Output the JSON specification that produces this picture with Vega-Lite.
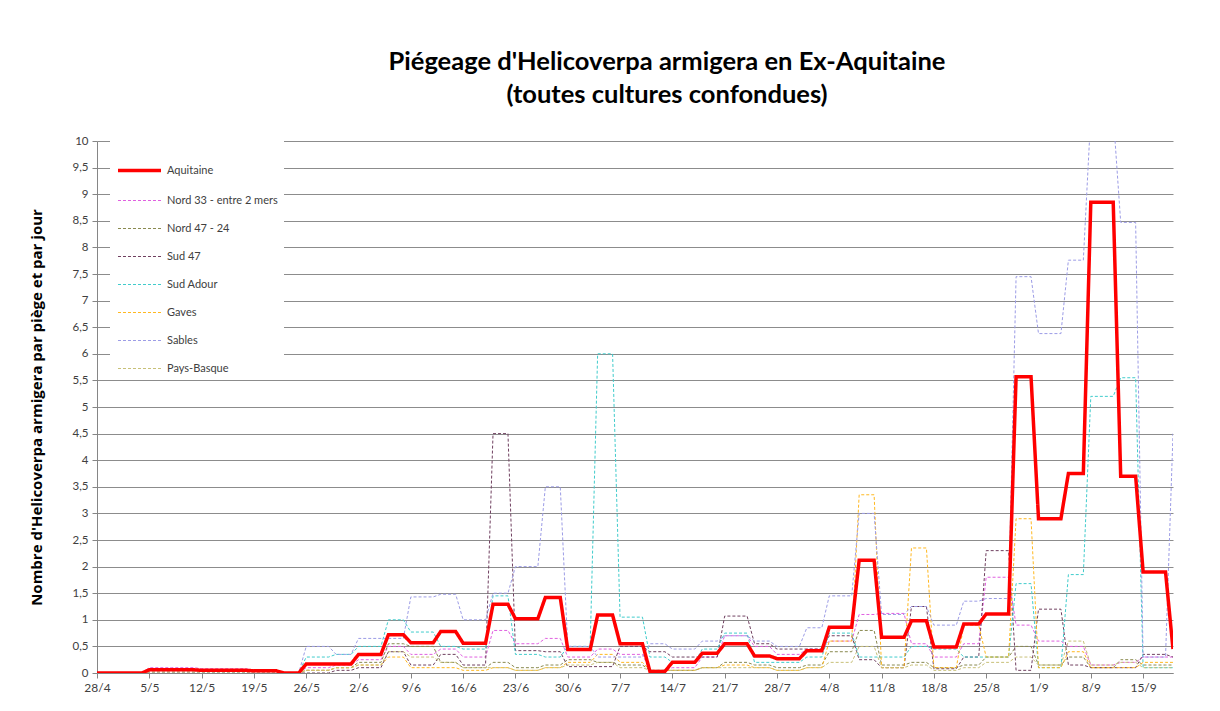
{
  "$schema": "https://vega.github.io/schema/vega-lite/v6.json",
  "width": 1076,
  "height": 532,
  "autosize": {"type": "none"},
  "padding": {"left": 97, "top": 141, "right": 47, "bottom": 38},
  "background": "white",
  "config": {"view": {"stroke": null}, "font": "Lato"},
  "title": {
    "text": ["Piégeage d'Helicoverpa armigera en Ex-Aquitaine", "(toutes cultures confondues)"],
    "fontSize": 25.5, "font": "Lato", "fontWeight": "bold", "color": "#000000",
    "anchor": "middle", "dx": 32, "offset": 27, "lineHeight": 33
  },
  "datasets": {
    "piegeage": [
      {"date":"2016-04-28T00:00","Aquitaine":0,"Nord 33 - entre 2 mers":0,"Nord 47 - 24":0,"Sud 47":0,"Sud Adour":0,"Gaves":0,"Sables":0,"Pays-Basque":0},
      {"date":"2016-05-01T00:00","Aquitaine":0,"Nord 33 - entre 2 mers":0,"Nord 47 - 24":0,"Sud 47":0,"Sud Adour":0,"Gaves":0,"Sables":0,"Pays-Basque":0},
      {"date":"2016-05-02T00:00","Aquitaine":0,"Nord 33 - entre 2 mers":0,"Nord 47 - 24":0,"Sud 47":0,"Sud Adour":0,"Gaves":0,"Sables":0,"Pays-Basque":0},
      {"date":"2016-05-04T00:00","Aquitaine":0,"Nord 33 - entre 2 mers":0,"Nord 47 - 24":0,"Sud 47":0,"Sud Adour":0,"Gaves":0,"Sables":0,"Pays-Basque":0},
      {"date":"2016-05-05T00:00","Aquitaine":0.06,"Nord 33 - entre 2 mers":0.1,"Nord 47 - 24":0.02,"Sud 47":0,"Sud Adour":0,"Gaves":0,"Sables":0,"Pays-Basque":0},
      {"date":"2016-05-08T00:00","Aquitaine":0.06,"Nord 33 - entre 2 mers":0.1,"Nord 47 - 24":0.02,"Sud 47":0,"Sud Adour":0,"Gaves":0,"Sables":0,"Pays-Basque":0},
      {"date":"2016-05-09T00:00","Aquitaine":0.06,"Nord 33 - entre 2 mers":0.1,"Nord 47 - 24":0.02,"Sud 47":0,"Sud Adour":0,"Gaves":0,"Sables":0,"Pays-Basque":0},
      {"date":"2016-05-11T00:00","Aquitaine":0.06,"Nord 33 - entre 2 mers":0.1,"Nord 47 - 24":0.02,"Sud 47":0,"Sud Adour":0,"Gaves":0,"Sables":0,"Pays-Basque":0},
      {"date":"2016-05-12T00:00","Aquitaine":0.05,"Nord 33 - entre 2 mers":0.08,"Nord 47 - 24":0.02,"Sud 47":0,"Sud Adour":0,"Gaves":0,"Sables":0,"Pays-Basque":0},
      {"date":"2016-05-15T00:00","Aquitaine":0.05,"Nord 33 - entre 2 mers":0.08,"Nord 47 - 24":0.02,"Sud 47":0,"Sud Adour":0,"Gaves":0,"Sables":0,"Pays-Basque":0},
      {"date":"2016-05-16T00:00","Aquitaine":0.05,"Nord 33 - entre 2 mers":0.08,"Nord 47 - 24":0.02,"Sud 47":0,"Sud Adour":0,"Gaves":0,"Sables":0,"Pays-Basque":0},
      {"date":"2016-05-18T00:00","Aquitaine":0.05,"Nord 33 - entre 2 mers":0.08,"Nord 47 - 24":0.02,"Sud 47":0,"Sud Adour":0,"Gaves":0,"Sables":0,"Pays-Basque":0},
      {"date":"2016-05-19T00:00","Aquitaine":0.04,"Nord 33 - entre 2 mers":0.05,"Nord 47 - 24":0,"Sud 47":0,"Sud Adour":0,"Gaves":0,"Sables":0,"Pays-Basque":0},
      {"date":"2016-05-22T00:00","Aquitaine":0.04,"Nord 33 - entre 2 mers":0.05,"Nord 47 - 24":0,"Sud 47":0,"Sud Adour":0,"Gaves":0,"Sables":0,"Pays-Basque":0},
      {"date":"2016-05-23T00:00","Aquitaine":0,"Nord 33 - entre 2 mers":0,"Nord 47 - 24":0,"Sud 47":0,"Sud Adour":0,"Gaves":0,"Sables":0,"Pays-Basque":0},
      {"date":"2016-05-25T00:00","Aquitaine":0,"Nord 33 - entre 2 mers":0,"Nord 47 - 24":0,"Sud 47":0,"Sud Adour":0,"Gaves":0,"Sables":0,"Pays-Basque":0},
      {"date":"2016-05-26T00:00","Aquitaine":0.17,"Nord 33 - entre 2 mers":0.1,"Nord 47 - 24":0.05,"Sud 47":0,"Sud Adour":0.3,"Gaves":0.05,"Sables":0.5,"Pays-Basque":0.05},
      {"date":"2016-05-29T00:00","Aquitaine":0.17,"Nord 33 - entre 2 mers":0.1,"Nord 47 - 24":0.05,"Sud 47":0,"Sud Adour":0.3,"Gaves":0.05,"Sables":0.5,"Pays-Basque":0.05},
      {"date":"2016-05-30T00:00","Aquitaine":0.17,"Nord 33 - entre 2 mers":0.15,"Nord 47 - 24":0.1,"Sud 47":0.05,"Sud Adour":0.35,"Gaves":0.1,"Sables":0.35,"Pays-Basque":0.1},
      {"date":"2016-06-01T00:00","Aquitaine":0.17,"Nord 33 - entre 2 mers":0.15,"Nord 47 - 24":0.1,"Sud 47":0.05,"Sud Adour":0.35,"Gaves":0.1,"Sables":0.35,"Pays-Basque":0.1},
      {"date":"2016-06-02T00:00","Aquitaine":0.35,"Nord 33 - entre 2 mers":0.25,"Nord 47 - 24":0.2,"Sud 47":0.1,"Sud Adour":0.5,"Gaves":0.15,"Sables":0.65,"Pays-Basque":0.15},
      {"date":"2016-06-05T00:00","Aquitaine":0.35,"Nord 33 - entre 2 mers":0.25,"Nord 47 - 24":0.2,"Sud 47":0.1,"Sud Adour":0.5,"Gaves":0.15,"Sables":0.65,"Pays-Basque":0.15},
      {"date":"2016-06-06T00:00","Aquitaine":0.72,"Nord 33 - entre 2 mers":0.5,"Nord 47 - 24":0.55,"Sud 47":0.4,"Sud Adour":1.0,"Gaves":0.3,"Sables":0.65,"Pays-Basque":0.4},
      {"date":"2016-06-08T00:00","Aquitaine":0.72,"Nord 33 - entre 2 mers":0.5,"Nord 47 - 24":0.55,"Sud 47":0.4,"Sud Adour":1.0,"Gaves":0.3,"Sables":0.65,"Pays-Basque":0.4},
      {"date":"2016-06-09T00:00","Aquitaine":0.57,"Nord 33 - entre 2 mers":0.35,"Nord 47 - 24":0.5,"Sud 47":0.15,"Sud Adour":0.77,"Gaves":0.1,"Sables":1.43,"Pays-Basque":0.3},
      {"date":"2016-06-12T00:00","Aquitaine":0.57,"Nord 33 - entre 2 mers":0.35,"Nord 47 - 24":0.5,"Sud 47":0.15,"Sud Adour":0.77,"Gaves":0.1,"Sables":1.43,"Pays-Basque":0.3},
      {"date":"2016-06-13T00:00","Aquitaine":0.78,"Nord 33 - entre 2 mers":0.45,"Nord 47 - 24":0.2,"Sud 47":0.35,"Sud Adour":0.5,"Gaves":0.1,"Sables":1.48,"Pays-Basque":0.2},
      {"date":"2016-06-15T00:00","Aquitaine":0.78,"Nord 33 - entre 2 mers":0.45,"Nord 47 - 24":0.2,"Sud 47":0.35,"Sud Adour":0.5,"Gaves":0.1,"Sables":1.48,"Pays-Basque":0.2},
      {"date":"2016-06-16T00:00","Aquitaine":0.56,"Nord 33 - entre 2 mers":0.3,"Nord 47 - 24":0.1,"Sud 47":0.15,"Sud Adour":0.45,"Gaves":0.05,"Sables":1.0,"Pays-Basque":0.1},
      {"date":"2016-06-19T00:00","Aquitaine":0.56,"Nord 33 - entre 2 mers":0.3,"Nord 47 - 24":0.1,"Sud 47":0.15,"Sud Adour":0.45,"Gaves":0.05,"Sables":1.0,"Pays-Basque":0.1},
      {"date":"2016-06-20T00:00","Aquitaine":1.29,"Nord 33 - entre 2 mers":0.8,"Nord 47 - 24":0.2,"Sud 47":4.5,"Sud Adour":1.45,"Gaves":0.1,"Sables":1.5,"Pays-Basque":0.1},
      {"date":"2016-06-22T00:00","Aquitaine":1.29,"Nord 33 - entre 2 mers":0.8,"Nord 47 - 24":0.2,"Sud 47":4.5,"Sud Adour":1.45,"Gaves":0.1,"Sables":1.5,"Pays-Basque":0.1},
      {"date":"2016-06-23T00:00","Aquitaine":1.02,"Nord 33 - entre 2 mers":0.55,"Nord 47 - 24":0.1,"Sud 47":0.42,"Sud Adour":0.35,"Gaves":0.05,"Sables":2.0,"Pays-Basque":0.05},
      {"date":"2016-06-26T00:00","Aquitaine":1.02,"Nord 33 - entre 2 mers":0.55,"Nord 47 - 24":0.1,"Sud 47":0.42,"Sud Adour":0.35,"Gaves":0.05,"Sables":2.0,"Pays-Basque":0.05},
      {"date":"2016-06-27T00:00","Aquitaine":1.42,"Nord 33 - entre 2 mers":0.65,"Nord 47 - 24":0.15,"Sud 47":0.4,"Sud Adour":0.3,"Gaves":0.1,"Sables":3.5,"Pays-Basque":0.1},
      {"date":"2016-06-29T00:00","Aquitaine":1.42,"Nord 33 - entre 2 mers":0.65,"Nord 47 - 24":0.15,"Sud 47":0.4,"Sud Adour":0.3,"Gaves":0.1,"Sables":3.5,"Pays-Basque":0.1},
      {"date":"2016-06-30T00:00","Aquitaine":0.44,"Nord 33 - entre 2 mers":0.3,"Nord 47 - 24":0.25,"Sud 47":0.12,"Sud Adour":0.5,"Gaves":0.2,"Sables":0.5,"Pays-Basque":0.15},
      {"date":"2016-07-03T00:00","Aquitaine":0.44,"Nord 33 - entre 2 mers":0.3,"Nord 47 - 24":0.25,"Sud 47":0.12,"Sud Adour":0.5,"Gaves":0.2,"Sables":0.5,"Pays-Basque":0.15},
      {"date":"2016-07-04T00:00","Aquitaine":1.09,"Nord 33 - entre 2 mers":0.45,"Nord 47 - 24":0.2,"Sud 47":0.12,"Sud Adour":6.0,"Gaves":0.35,"Sables":0.3,"Pays-Basque":0.2},
      {"date":"2016-07-06T00:00","Aquitaine":1.09,"Nord 33 - entre 2 mers":0.45,"Nord 47 - 24":0.2,"Sud 47":0.12,"Sud Adour":6.0,"Gaves":0.35,"Sables":0.3,"Pays-Basque":0.2},
      {"date":"2016-07-07T00:00","Aquitaine":0.55,"Nord 33 - entre 2 mers":0.35,"Nord 47 - 24":0.15,"Sud 47":0.5,"Sud Adour":1.05,"Gaves":0.2,"Sables":0.3,"Pays-Basque":0.1},
      {"date":"2016-07-10T00:00","Aquitaine":0.55,"Nord 33 - entre 2 mers":0.35,"Nord 47 - 24":0.15,"Sud 47":0.5,"Sud Adour":1.05,"Gaves":0.2,"Sables":0.3,"Pays-Basque":0.1},
      {"date":"2016-07-11T00:00","Aquitaine":0.03,"Nord 33 - entre 2 mers":0.05,"Nord 47 - 24":0.05,"Sud 47":0.4,"Sud Adour":0.3,"Gaves":0.05,"Sables":0.55,"Pays-Basque":0.05},
      {"date":"2016-07-13T00:00","Aquitaine":0.03,"Nord 33 - entre 2 mers":0.05,"Nord 47 - 24":0.05,"Sud 47":0.4,"Sud Adour":0.3,"Gaves":0.05,"Sables":0.55,"Pays-Basque":0.05},
      {"date":"2016-07-14T00:00","Aquitaine":0.2,"Nord 33 - entre 2 mers":0.1,"Nord 47 - 24":0.05,"Sud 47":0.3,"Sud Adour":0.2,"Gaves":0.05,"Sables":0.45,"Pays-Basque":0.05},
      {"date":"2016-07-17T00:00","Aquitaine":0.2,"Nord 33 - entre 2 mers":0.1,"Nord 47 - 24":0.05,"Sud 47":0.3,"Sud Adour":0.2,"Gaves":0.05,"Sables":0.45,"Pays-Basque":0.05},
      {"date":"2016-07-18T00:00","Aquitaine":0.37,"Nord 33 - entre 2 mers":0.3,"Nord 47 - 24":0.1,"Sud 47":0.3,"Sud Adour":0.45,"Gaves":0.1,"Sables":0.6,"Pays-Basque":0.1},
      {"date":"2016-07-20T00:00","Aquitaine":0.37,"Nord 33 - entre 2 mers":0.3,"Nord 47 - 24":0.1,"Sud 47":0.3,"Sud Adour":0.45,"Gaves":0.1,"Sables":0.6,"Pays-Basque":0.1},
      {"date":"2016-07-21T00:00","Aquitaine":0.55,"Nord 33 - entre 2 mers":0.7,"Nord 47 - 24":0.2,"Sud 47":1.07,"Sud Adour":0.75,"Gaves":0.15,"Sables":0.7,"Pays-Basque":0.1},
      {"date":"2016-07-24T00:00","Aquitaine":0.55,"Nord 33 - entre 2 mers":0.7,"Nord 47 - 24":0.2,"Sud 47":1.07,"Sud Adour":0.75,"Gaves":0.15,"Sables":0.7,"Pays-Basque":0.1},
      {"date":"2016-07-25T00:00","Aquitaine":0.32,"Nord 33 - entre 2 mers":0.5,"Nord 47 - 24":0.15,"Sud 47":0.55,"Sud Adour":0.2,"Gaves":0.1,"Sables":0.6,"Pays-Basque":0.1},
      {"date":"2016-07-27T00:00","Aquitaine":0.32,"Nord 33 - entre 2 mers":0.5,"Nord 47 - 24":0.15,"Sud 47":0.55,"Sud Adour":0.2,"Gaves":0.1,"Sables":0.6,"Pays-Basque":0.1},
      {"date":"2016-07-28T00:00","Aquitaine":0.27,"Nord 33 - entre 2 mers":0.35,"Nord 47 - 24":0.1,"Sud 47":0.45,"Sud Adour":0.2,"Gaves":0.05,"Sables":0.5,"Pays-Basque":0.05},
      {"date":"2016-07-31T00:00","Aquitaine":0.27,"Nord 33 - entre 2 mers":0.35,"Nord 47 - 24":0.1,"Sud 47":0.45,"Sud Adour":0.2,"Gaves":0.05,"Sables":0.5,"Pays-Basque":0.05},
      {"date":"2016-08-01T00:00","Aquitaine":0.42,"Nord 33 - entre 2 mers":0.45,"Nord 47 - 24":0.15,"Sud 47":0.45,"Sud Adour":0.3,"Gaves":0.1,"Sables":0.85,"Pays-Basque":0.1},
      {"date":"2016-08-03T00:00","Aquitaine":0.42,"Nord 33 - entre 2 mers":0.45,"Nord 47 - 24":0.15,"Sud 47":0.45,"Sud Adour":0.3,"Gaves":0.1,"Sables":0.85,"Pays-Basque":0.1},
      {"date":"2016-08-04T00:00","Aquitaine":0.86,"Nord 33 - entre 2 mers":0.6,"Nord 47 - 24":0.4,"Sud 47":0.7,"Sud Adour":0.75,"Gaves":0.6,"Sables":1.45,"Pays-Basque":0.2},
      {"date":"2016-08-07T00:00","Aquitaine":0.86,"Nord 33 - entre 2 mers":0.6,"Nord 47 - 24":0.4,"Sud 47":0.7,"Sud Adour":0.75,"Gaves":0.6,"Sables":1.45,"Pays-Basque":0.2},
      {"date":"2016-08-08T00:00","Aquitaine":2.12,"Nord 33 - entre 2 mers":1.1,"Nord 47 - 24":0.8,"Sud 47":0.25,"Sud Adour":0.3,"Gaves":3.35,"Sables":3.0,"Pays-Basque":0.5},
      {"date":"2016-08-10T00:00","Aquitaine":2.12,"Nord 33 - entre 2 mers":1.1,"Nord 47 - 24":0.8,"Sud 47":0.25,"Sud Adour":0.3,"Gaves":3.35,"Sables":3.0,"Pays-Basque":0.5},
      {"date":"2016-08-11T00:00","Aquitaine":0.67,"Nord 33 - entre 2 mers":1.12,"Nord 47 - 24":0.15,"Sud 47":0.1,"Sud Adour":0.3,"Gaves":0.1,"Sables":1.1,"Pays-Basque":0.1},
      {"date":"2016-08-14T00:00","Aquitaine":0.67,"Nord 33 - entre 2 mers":1.12,"Nord 47 - 24":0.15,"Sud 47":0.1,"Sud Adour":0.3,"Gaves":0.1,"Sables":1.1,"Pays-Basque":0.1},
      {"date":"2016-08-15T00:00","Aquitaine":0.98,"Nord 33 - entre 2 mers":0.55,"Nord 47 - 24":0.2,"Sud 47":1.25,"Sud Adour":0.5,"Gaves":2.35,"Sables":1.25,"Pays-Basque":0.15},
      {"date":"2016-08-17T00:00","Aquitaine":0.98,"Nord 33 - entre 2 mers":0.55,"Nord 47 - 24":0.2,"Sud 47":1.25,"Sud Adour":0.5,"Gaves":2.35,"Sables":1.25,"Pays-Basque":0.15},
      {"date":"2016-08-18T00:00","Aquitaine":0.49,"Nord 33 - entre 2 mers":0.3,"Nord 47 - 24":0.1,"Sud 47":0.08,"Sud Adour":0.45,"Gaves":0.1,"Sables":0.9,"Pays-Basque":0.05},
      {"date":"2016-08-21T00:00","Aquitaine":0.49,"Nord 33 - entre 2 mers":0.3,"Nord 47 - 24":0.1,"Sud 47":0.08,"Sud Adour":0.45,"Gaves":0.1,"Sables":0.9,"Pays-Basque":0.05},
      {"date":"2016-08-22T00:00","Aquitaine":0.92,"Nord 33 - entre 2 mers":0.55,"Nord 47 - 24":0.15,"Sud 47":0.3,"Sud Adour":0.3,"Gaves":0.9,"Sables":1.35,"Pays-Basque":0.1},
      {"date":"2016-08-24T00:00","Aquitaine":0.92,"Nord 33 - entre 2 mers":0.55,"Nord 47 - 24":0.15,"Sud 47":0.3,"Sud Adour":0.3,"Gaves":0.9,"Sables":1.35,"Pays-Basque":0.1},
      {"date":"2016-08-25T00:00","Aquitaine":1.11,"Nord 33 - entre 2 mers":1.8,"Nord 47 - 24":0.3,"Sud 47":2.3,"Sud Adour":0.3,"Gaves":0.3,"Sables":1.4,"Pays-Basque":0.2},
      {"date":"2016-08-28T00:00","Aquitaine":1.11,"Nord 33 - entre 2 mers":1.8,"Nord 47 - 24":0.3,"Sud 47":2.3,"Sud Adour":0.3,"Gaves":0.3,"Sables":1.4,"Pays-Basque":0.2},
      {"date":"2016-08-29T00:00","Aquitaine":5.57,"Nord 33 - entre 2 mers":0.9,"Nord 47 - 24":0.5,"Sud 47":0.05,"Sud Adour":1.68,"Gaves":2.9,"Sables":7.45,"Pays-Basque":0.3},
      {"date":"2016-08-31T00:00","Aquitaine":5.57,"Nord 33 - entre 2 mers":0.9,"Nord 47 - 24":0.5,"Sud 47":0.05,"Sud Adour":1.68,"Gaves":2.9,"Sables":7.45,"Pays-Basque":0.3},
      {"date":"2016-09-01T00:00","Aquitaine":2.9,"Nord 33 - entre 2 mers":0.6,"Nord 47 - 24":0.15,"Sud 47":1.2,"Sud Adour":0.1,"Gaves":0.1,"Sables":6.38,"Pays-Basque":0.15},
      {"date":"2016-09-04T00:00","Aquitaine":2.9,"Nord 33 - entre 2 mers":0.6,"Nord 47 - 24":0.15,"Sud 47":1.2,"Sud Adour":0.1,"Gaves":0.1,"Sables":6.38,"Pays-Basque":0.15},
      {"date":"2016-09-05T00:00","Aquitaine":3.75,"Nord 33 - entre 2 mers":0.5,"Nord 47 - 24":0.3,"Sud 47":0.15,"Sud Adour":1.85,"Gaves":0.4,"Sables":7.76,"Pays-Basque":0.6},
      {"date":"2016-09-07T00:00","Aquitaine":3.75,"Nord 33 - entre 2 mers":0.5,"Nord 47 - 24":0.3,"Sud 47":0.15,"Sud Adour":1.85,"Gaves":0.4,"Sables":7.76,"Pays-Basque":0.6},
      {"date":"2016-09-08T00:00","Aquitaine":8.85,"Nord 33 - entre 2 mers":0.15,"Nord 47 - 24":0.1,"Sud 47":0.1,"Sud Adour":5.2,"Gaves":0.1,"Sables":10.5,"Pays-Basque":0.15},
      {"date":"2016-09-11T00:00","Aquitaine":8.85,"Nord 33 - entre 2 mers":0.15,"Nord 47 - 24":0.1,"Sud 47":0.1,"Sud Adour":5.2,"Gaves":0.1,"Sables":10.5,"Pays-Basque":0.15},
      {"date":"2016-09-12T00:00","Aquitaine":3.7,"Nord 33 - entre 2 mers":0.2,"Nord 47 - 24":0.25,"Sud 47":0.1,"Sud Adour":5.55,"Gaves":0.1,"Sables":8.47,"Pays-Basque":0.2},
      {"date":"2016-09-14T00:00","Aquitaine":3.7,"Nord 33 - entre 2 mers":0.2,"Nord 47 - 24":0.25,"Sud 47":0.1,"Sud Adour":5.55,"Gaves":0.1,"Sables":8.47,"Pays-Basque":0.2},
      {"date":"2016-09-15T00:00","Aquitaine":1.9,"Nord 33 - entre 2 mers":0.3,"Nord 47 - 24":0.15,"Sud 47":0.35,"Sud Adour":0.1,"Gaves":0.2,"Sables":0.3,"Pays-Basque":0.1},
      {"date":"2016-09-18T00:00","Aquitaine":1.9,"Nord 33 - entre 2 mers":0.3,"Nord 47 - 24":0.15,"Sud 47":0.35,"Sud Adour":0.1,"Gaves":0.2,"Sables":0.3,"Pays-Basque":0.1},
      {"date":"2016-09-19T00:00","Aquitaine":0.45,"Nord 33 - entre 2 mers":0.3,"Nord 47 - 24":0.15,"Sud 47":0.3,"Sud Adour":0.1,"Gaves":0.2,"Sables":4.5,"Pays-Basque":0.1}
    ]
  },
  "data": {"name": "piegeage"},
  "transform": [
    {"fold": ["Aquitaine", "Nord 33 - entre 2 mers", "Nord 47 - 24", "Sud 47", "Sud Adour", "Gaves", "Sables", "Pays-Basque"], "as": ["serie", "valeur"]}
  ],
  "encoding": {
    "x": {
      "field": "date", "type": "temporal",
      "scale": {"domain": [{"year": 2016, "month": 4, "date": 28}, {"year": 2016, "month": 9, "date": 19}]},
      "axis": {
        "title": null, "grid": false, "format": "%-d/%-m",
        "values": [
          {"year": 2016, "month": 4, "date": 28}, {"year": 2016, "month": 5, "date": 5}, {"year": 2016, "month": 5, "date": 12},
          {"year": 2016, "month": 5, "date": 19}, {"year": 2016, "month": 5, "date": 26}, {"year": 2016, "month": 6, "date": 2},
          {"year": 2016, "month": 6, "date": 9}, {"year": 2016, "month": 6, "date": 16}, {"year": 2016, "month": 6, "date": 23},
          {"year": 2016, "month": 6, "date": 30}, {"year": 2016, "month": 7, "date": 7}, {"year": 2016, "month": 7, "date": 14},
          {"year": 2016, "month": 7, "date": 21}, {"year": 2016, "month": 7, "date": 28}, {"year": 2016, "month": 8, "date": 4},
          {"year": 2016, "month": 8, "date": 11}, {"year": 2016, "month": 8, "date": 18}, {"year": 2016, "month": 8, "date": 25},
          {"year": 2016, "month": 9, "date": 1}, {"year": 2016, "month": 9, "date": 8}, {"year": 2016, "month": 9, "date": 15}
        ],
        "labelFontSize": 12, "labelColor": "#404040", "labelFont": "Lato",
        "tickColor": "#868686", "domainColor": "#868686", "tickSize": 5, "labelPadding": 4,
        "labelFlush": false, "labelOverlap": false
      }
    },
    "y": {
      "field": "valeur", "type": "quantitative",
      "scale": {"domain": [0, 10], "nice": false, "zero": true},
      "axis": {
        "title": "Nombre d'Helicoverpa armigera par piège et par jour",
        "titleFontSize": 15, "titleFontWeight": "bold", "titleColor": "#000000", "titleFont": "Open Sans", "titlePadding": 28,
        "values": [0, 0.5, 1, 1.5, 2, 2.5, 3, 3.5, 4, 4.5, 5, 5.5, 6, 6.5, 7, 7.5, 8, 8.5, 9, 9.5, 10],
        "labelExpr": "replace(toString(datum.value), '.', ',')",
        "grid": true, "gridColor": "#8c8c8c", "gridWidth": 1,
        "tickColor": "#868686", "domainColor": "#868686", "tickSize": 5,
        "labelFontSize": 11.5, "labelColor": "#404040", "labelFont": "Lato", "labelPadding": 4
      }
    },
    "color": {
      "field": "serie", "type": "nominal",
      "scale": {
        "domain": ["Aquitaine", "Nord 33 - entre 2 mers", "Nord 47 - 24", "Sud 47", "Sud Adour", "Gaves", "Sables", "Pays-Basque"],
        "range": ["#ff0000", "#e060e0", "#8a8a50", "#704060", "#40cccc", "#ffb820", "#9c9ce6", "#c8c078"]
      },
      "legend": {
        "title": null, "orient": "none", "legendX": 13, "legendY": 0,
        "fillColor": "white", "padding": 6, "symbolType": "stroke", "symbolSize": 1850,
        "labelFontSize": 11, "labelColor": "#404040", "labelFont": "Lato", "labelOffset": 4,
        "rowPadding": 0
      }
    },
    "strokeDash": {
      "field": "serie", "type": "nominal",
      "scale": {
        "domain": ["Aquitaine", "Nord 33 - entre 2 mers", "Nord 47 - 24", "Sud 47", "Sud Adour", "Gaves", "Sables", "Pays-Basque"],
        "range": [[1, 0], [3, 2], [3, 2], [3, 2], [3, 2], [3, 2], [3, 2], [3, 2]]
      },
      "legend": null
    },
    "strokeWidth": {
      "field": "serie", "type": "nominal",
      "scale": {
        "type": "ordinal",
        "domain": ["Aquitaine", "Nord 33 - entre 2 mers", "Nord 47 - 24", "Sud 47", "Sud Adour", "Gaves", "Sables", "Pays-Basque"],
        "range": [3.5, 1, 1, 1, 1, 1, 1, 1]
      },
      "legend": null
    }
  },
  "layer": [
    {
      "transform": [{"filter": "datum.serie !== 'Aquitaine'"}],
      "mark": {"type": "line", "clip": true, "interpolate": "linear"}
    },
    {
      "transform": [{"filter": "datum.serie === 'Aquitaine'"}],
      "mark": {"type": "line", "clip": true, "interpolate": "linear"}
    }
  ]
}
